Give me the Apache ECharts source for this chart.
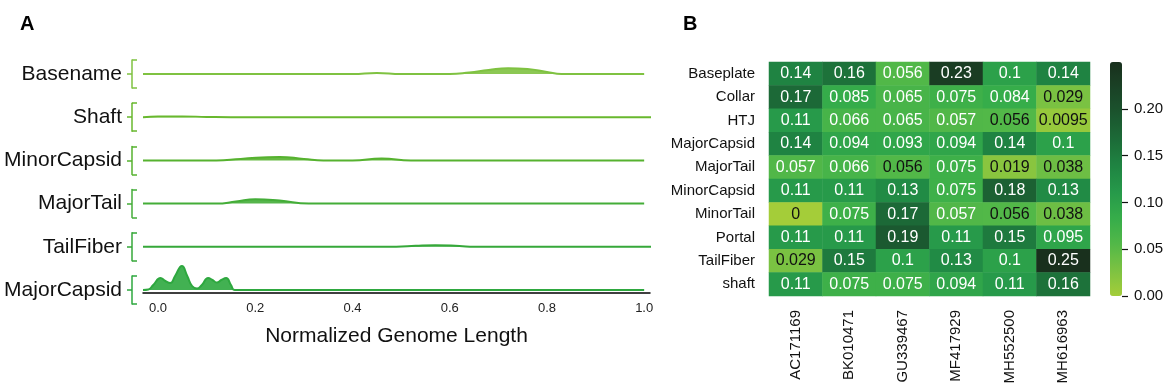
<!DOCTYPE html>
<html>
<head>
<meta charset="utf-8">
<script src="https://cdn.jsdelivr.net/npm/echarts@6/dist/echarts.min.js"></script>
<style>
  html, body { margin: 0; padding: 0; background: #fff; }
  #main { width: 1170px; height: 391px; }
</style>
</head>
<body>
<div id="main"></div>
<script>
// panel A: ridge rows (top to bottom), density as [x, height]
const ridgeNames = ["Basename", "Shaft", "MinorCapsid", "MajorTail", "TailFiber", "MajorCapsid"];
const basenameDens = [[-0.031, 0], [0.0, 0], [0.4, 0], [0.45, 1], [0.5, 0], [0.6, 0], [0.64, 1.5], [0.68, 4], [0.72, 5.8], [0.76, 5], [0.8, 2], [0.83, 0], [1.0, 0]];
const shaftDens = [[-0.031, 0], [0.0, 0.6], [0.05, 0.8], [0.1, 0.3], [0.15, 0], [1.0, 0], [1.027, 0]];
const minorCapsidDens = [[-0.031, 0], [0.12, 0], [0.17, 1.5], [0.25, 3.5], [0.3, 1.5], [0.34, 0], [0.4, 0], [0.46, 1.8], [0.52, 0], [1.0, 0]];
const majorTailDens = [[-0.031, 0], [0.12, 0], [0.16, 2], [0.2, 4.3], [0.25, 3], [0.31, 0], [1.0, 0]];
const tailFiberDens = [[-0.031, 0], [0.49, 0], [0.53, 1], [0.57, 1.6], [0.62, 0.8], [0.65, 0], [1.0, 0], [1.027, 0]];
const majorCapsidDens = [[-0.031, 0], [-0.02, 0.5], [-0.01, 5], [0.005, 12], [0.015, 9], [0.025, 7], [0.035, 14], [0.049, 24], [0.06, 14], [0.07, 4], [0.08, 1.5], [0.09, 5], [0.103, 12], [0.112, 10], [0.121, 7.5], [0.13, 10], [0.14, 12], [0.15, 5], [0.158, 0], [1.0, 0]];
const ridgeData = [basenameDens, shaftDens, minorCapsidDens, majorTailDens, tailFiberDens, majorCapsidDens];
const xTicks = [0, 0.2, 0.4, 0.6, 0.8, 1.0];

// panel B: heatmap
const genomes = ["AC171169", "BK010471", "GU339467", "MF417929", "MH552500", "MH616963"];
const modules = ["Baseplate", "Collar", "HTJ", "MajorCapsid", "MajorTail", "MinorCapsid", "MinorTail", "Portal", "TailFiber", "shaft"];
const baseplateVals = [0.14, 0.16, 0.0564, 0.23, 0.1, 0.14];
const collarVals = [0.17, 0.085, 0.065, 0.075, 0.084, 0.029];
const htjVals = [0.11, 0.066, 0.065, 0.057, 0.056, 0.0095];
const majorCapsidVals = [0.14, 0.094, 0.093, 0.094, 0.14, 0.1];
const majorTailVals = [0.057, 0.066, 0.056, 0.075, 0.019, 0.038];
const minorCapsidVals = [0.11, 0.11, 0.13, 0.075, 0.18, 0.13];
const minorTailVals = [0, 0.075, 0.17, 0.057, 0.056, 0.038];
const portalVals = [0.11, 0.11, 0.19, 0.11, 0.15, 0.095];
const tailFiberVals = [0.029, 0.15, 0.1, 0.13, 0.1, 0.25];
const shaftVals = [0.11, 0.075, 0.075, 0.094, 0.11, 0.16];
const heatRows = [baseplateVals, collarVals, htjVals, majorCapsidVals, majorTailVals, minorCapsidVals, minorTailVals, portalVals, tailFiberVals, shaftVals];
const cbarTicks = [0, 0.05, 0.1, 0.15, 0.2];

const ridgeColors = ["#7fc241", "#68b82e", "#56b22f", "#44ad38", "#36a83a", "#2ea83f"];
const font = "Liberation Sans, Arial, Helvetica, sans-serif";

const chart = echarts.init(document.getElementById("main"));

const grids = [];
const xAxes = [];
const yAxes = [];
const series = [];

// ridges: one grid per row
ridgeNames.forEach((name, i) => {
  const base = 74 + i * 43.2;
  grids.push({ left: 143, width: 507, top: base - 14, height: 28 });
  xAxes.push({ gridIndex: i, type: "value", min: -0.031, max: 1.012, show: false });
  // bracket with label
  yAxes.push({
    gridIndex: i, type: "value", min: -14, max: 14, position: "left", offset: 11,
    axisLine: { show: true, onZero: false, lineStyle: { color: ridgeColors[i], width: 1.5 } },
    axisTick: { show: true, customValues: [0], length: 5, lineStyle: { color: ridgeColors[i], width: 1.5 } },
    axisLabel: { customValues: [0], formatter: () => name, fontSize: 21, color: "#111", margin: 10, padding: [0, 0, 4, 0] },
    splitLine: { show: false }
  });
  // bracket ends
  yAxes.push({
    gridIndex: i, type: "value", min: -14, max: 14, position: "left", offset: 11,
    axisLine: { show: false, onZero: false },
    axisTick: { show: true, inside: true, customValues: [-14, 14], length: 5, lineStyle: { color: ridgeColors[i], width: 1.5 } },
    axisLabel: { show: false },
    splitLine: { show: false }
  });
  series.push({
    type: "line", xAxisIndex: i, yAxisIndex: 2 * i, data: ridgeData[i],
    smooth: 0.5, symbol: "none", clip: false, silent: true,
    lineStyle: { color: ridgeColors[i], width: 2 },
    areaStyle: { color: ridgeColors[i], opacity: 0.9 }
  });
});

// bottom axis of panel A
grids.push({ left: 143, width: 507, top: 283, height: 10 });
xAxes.push({
  gridIndex: 6, type: "value", min: -0.031, max: 1.012,
  axisLine: { onZero: false, lineStyle: { color: "#000", width: 1.5 } },
  axisTick: { show: false },
  axisLabel: { customValues: xTicks, formatter: v => v.toFixed(1), fontSize: 13, color: "#222", margin: 9 },
  splitLine: { show: false },
  name: "Normalized Genome Length", nameLocation: "middle", nameGap: 33,
  nameTextStyle: { fontSize: 21, color: "#111" }
});
yAxes.push({ gridIndex: 6, type: "value", show: false });
series.push({ type: "line", xAxisIndex: 6, yAxisIndex: 12, data: [] });

// heatmap
grids.push({ left: 769, width: 321, top: 62, height: 234 });
xAxes.push({
  gridIndex: 7, type: "category", data: genomes,
  axisLine: { show: false }, axisTick: { show: false },
  axisLabel: { rotate: 90, fontSize: 15, color: "#111", margin: 14 }
});
yAxes.push({
  gridIndex: 7, type: "category", data: modules, inverse: true,
  axisLine: { show: false }, axisTick: { show: false },
  axisLabel: { fontSize: 15, color: "#111", margin: 14 }
});
const heatData = [];
heatRows.forEach((row, r) => {
  row.forEach((v, c) => {
    heatData.push({ value: [c, r, v], label: { color: v < 0.0562 ? "#111" : "#fff" } });
  });
});
const heatIndex = series.length;
series.push({
  type: "heatmap", xAxisIndex: 7, yAxisIndex: 13, data: heatData,
  label: { show: true, fontSize: 16, formatter: p => String(Number(p.value[2].toPrecision(2))) },
  itemStyle: { borderWidth: 0 },
  emphasis: { disabled: true }
});

// colorbar ticks
grids.push({ left: 1110, width: 12, top: 62, height: 234 });
xAxes.push({ gridIndex: 8, type: "value", min: 0, max: 1, show: false });
yAxes.push({
  gridIndex: 8, type: "value", min: 0, max: 0.25, position: "right",
  axisLine: { show: false, onZero: false },
  axisTick: { show: true, customValues: cbarTicks, length: 6, lineStyle: { color: "#111", width: 1.2 } },
  axisLabel: { customValues: cbarTicks, formatter: v => v.toFixed(2), fontSize: 15, color: "#111", margin: 12 },
  splitLine: { show: false }
});
series.push({ type: "line", xAxisIndex: 8, yAxisIndex: 14, data: [] });

chart.setOption({
  animation: false,
  textStyle: { fontFamily: font },
  title: [
    { text: "A", left: 15, top: 9, textStyle: { fontSize: 20, fontWeight: "bold", color: "#000", fontFamily: font } },
    { text: "B", left: 678, top: 9, textStyle: { fontSize: 20, fontWeight: "bold", color: "#000", fontFamily: font } }
  ],
  grid: grids,
  xAxis: xAxes,
  yAxis: yAxes,
  visualMap: {
    type: "continuous", min: 0, max: 0.25, seriesIndex: heatIndex,
    left: 1110, top: 62, itemWidth: 12, itemHeight: 234, padding: 0,
    calculable: false, text: null,
    inRange: { color: ["#a4cd39", "#7cc242", "#52b848", "#36ad4a", "#26994a", "#1f8442", "#1c6c38", "#1b552e", "#1a4226", "#19301d"] }
  },
  series: series
});
</script>
</body>
</html>
